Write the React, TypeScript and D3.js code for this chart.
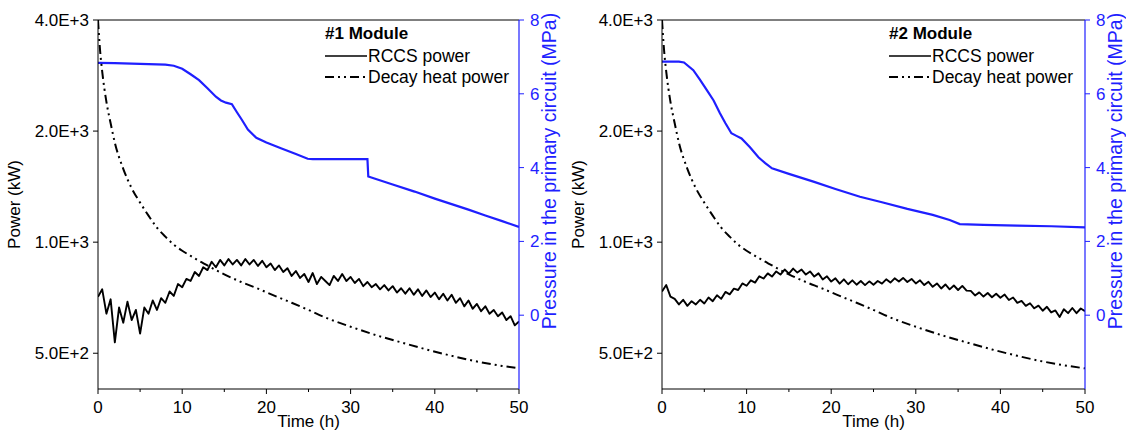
import React from 'react';
import * as d3 from 'd3';

// time axis ticks (h)
const timeTicks = [0, 10, 20, 30, 40, 50];
const timeMinor = [5, 15, 25, 35, 45];
const powerTicks = [500, 1000, 2000, 4000];
const pressureTicks = [0, 2, 4, 6, 8];

// RCCS power, sampled every 0.5 h (kW)
const rccsTime = d3.range(0, 50.01, 0.5);
const rccs1 = [
  711, 745, 640, 700, 535, 665, 605, 690, 615, 655, 565, 665, 640, 695, 655, 705, 685, 735, 715, 770,
  755, 795, 785, 830, 810, 855, 840, 885, 855, 895, 865, 900, 870, 895, 865, 900, 870, 895, 862, 890,
  855, 875, 840, 865, 830, 850, 810, 835, 800, 820, 780, 825, 770, 805, 785, 765, 810, 785, 820, 785,
  805, 775, 795, 760, 780, 755, 770, 745, 765, 740, 760, 730, 750, 725, 750, 720, 745, 715, 740, 710,
  730, 700, 725, 695, 720, 685, 705, 670, 695, 660, 680, 650, 670, 640, 655, 630, 645, 615, 630, 595,
  610,
];
const rccs2 = [
  735, 765, 712, 702, 678, 698, 672, 692, 678, 698, 682, 708, 692, 718, 702, 733, 722, 748, 742, 773,
  762, 788, 777, 808, 797, 823, 807, 833, 817, 843, 822, 848, 827, 843, 817, 833, 807, 823, 792, 808,
  782, 798, 772, 793, 769, 788, 767, 785, 765, 783, 767, 785, 772, 793, 777, 798, 782, 800, 780, 795,
  773, 788, 765, 781, 757, 773, 749, 768, 745, 763, 742, 761, 739, 738, 717, 731, 712, 728, 709, 725,
  707, 721, 697, 708, 685, 693, 672, 683, 662, 673, 652, 668, 645, 653, 627, 658, 642, 663, 642, 661,
  650,
];

// decay heat power (kW)
const decayTime = [0, 0.25, 0.5, 1, 1.5, 2, 3, 4, 5, 6, 7, 8, 9, 10, 11, 12, 13, 14, 15, 17, 19, 21, 23, 25, 27, 30, 33, 36, 39, 42, 45, 48, 50];
const decayPower = [4000, 3300, 2900, 2400, 2100, 1860, 1580, 1400, 1280, 1180, 1095, 1035, 985, 948, 918, 890, 865, 840, 818, 780, 748, 715, 685, 655, 625, 590, 560, 535, 512, 492, 475, 462, 455];

// pressure in the primary circuit (MPa)
const p1Time = [0, 2, 5, 8, 9, 10, 11, 12, 13, 14, 14.6, 15.2, 15.9, 16.5, 17.1, 17.8, 18.8, 20, 21.8, 23.5, 24.9, 25.5, 32.0, 32.1, 35, 37.6, 40, 42, 44, 46, 48, 50];
const p1 = [6.84, 6.83, 6.81, 6.79, 6.76, 6.68, 6.53, 6.37, 6.15, 5.92, 5.82, 5.76, 5.72, 5.5, 5.29, 5.03, 4.81, 4.68, 4.52, 4.37, 4.24, 4.23, 4.23, 3.76, 3.54, 3.35, 3.16, 3.01, 2.86, 2.7, 2.55, 2.39];
const p2Time = [0, 1, 2, 2.6, 3.7, 4.5, 5.3, 6.1, 6.85, 7.5, 8.2, 8.8, 9.4, 10.4, 11.4, 12.2, 13, 15, 17.9, 20.5, 23.4, 26, 29, 32, 34, 35.2, 38, 42, 46, 50];
const p2 = [6.87, 6.87, 6.87, 6.85, 6.64, 6.38, 6.1, 5.82, 5.47, 5.2, 4.93, 4.86, 4.79, 4.55, 4.28, 4.12, 3.98, 3.83, 3.62, 3.42, 3.21, 3.06, 2.88, 2.72, 2.58, 2.47, 2.45, 2.43, 2.41, 2.38];

const BLUE = '#1f1fff';
const FONT = '"Liberation Sans", Arial, sans-serif';
const DECAY_DASH = '9,4,2,4,2,4';

const top = 20;
const bottom = 389;

type PanelProps = {
  id: string;
  x0: number;
  x1: number;
  title: string;
  rccs: number[];
  pTime: number[];
  p: number[];
};

const Panel = ({ id, x0, x1, title, rccs, pTime, p }: PanelProps) => {
  const x = d3.scaleLinear().domain([0, 50]).range([x0, x1]);
  const yP = d3.scaleLog().domain([400, 4000]).range([bottom, top]);
  const yM = d3.scaleLinear().domain([-2, 8]).range([bottom, top]);

  const powerLine = d3
    .line<number>()
    .x((_, i) => x(rccsTime[i]))
    .y((d) => yP(d));
  const decayLine = d3
    .line<number>()
    .x((_, i) => x(decayTime[i]))
    .y((d) => yP(d))
    .curve(d3.curveMonotoneX);
  const pressLine = d3
    .line<number>()
    .x((_, i) => x(pTime[i]))
    .y((d) => yM(d));

  const fmt = (v: number) => v.toExponential(1).toUpperCase();
  const lx = x0 + 227;

  return (
    <g>
      <defs>
        <clipPath id={id}>
          <rect x={x0} y={top} width={x1 - x0} height={bottom - top} />
        </clipPath>
      </defs>

      {/* data */}
      <g clipPath={`url(#${id})`} fill="none">
        <path d={pressLine(p) || ''} stroke={BLUE} strokeWidth={2.2} />
        <path d={decayLine(decayPower) || ''} stroke="#000" strokeWidth={2} strokeDasharray={DECAY_DASH} />
        <path d={powerLine(rccs) || ''} stroke="#000" strokeWidth={1.9} strokeLinejoin="round" />
      </g>

      {/* frame */}
      <line x1={x0} x2={x1} y1={top} y2={top} stroke="#000" strokeWidth={1} />
      <line x1={x0} x2={x0} y1={top} y2={bottom} stroke="#000" strokeWidth={1} />
      <line x1={x0} x2={x1} y1={bottom} y2={bottom} stroke="#000" strokeWidth={1} />
      <line x1={x1} x2={x1} y1={top} y2={bottom} stroke={BLUE} strokeWidth={1.2} />

      {/* bottom axis */}
      {timeTicks.map((t) => (
        <g key={t}>
          <line x1={x(t)} x2={x(t)} y1={bottom} y2={bottom + 5} stroke="#000" />
          <text x={x(t)} y={413} textAnchor="middle" fontSize={17} fontFamily={FONT}>
            {t}
          </text>
        </g>
      ))}
      {timeMinor.map((t) => (
        <line key={t} x1={x(t)} x2={x(t)} y1={bottom} y2={bottom + 3} stroke="#000" />
      ))}
      <text x={(x0 + x1) / 2} y={427} textAnchor="middle" fontSize={17} fontFamily={FONT}>
        Time (h)
      </text>

      {/* left axis */}
      {powerTicks.map((v) => (
        <g key={v}>
          <line x1={x0 - 5} x2={x0} y1={yP(v)} y2={yP(v)} stroke="#000" />
          <text x={x0 - 9} y={yP(v)} dy="0.35em" textAnchor="end" fontSize={17} fontFamily={FONT}>
            {fmt(v)}
          </text>
        </g>
      ))}
      <text
        transform={`translate(${x0 - 78},${(top + bottom) / 2}) rotate(-90)`}
        textAnchor="middle"
        fontSize={17}
        fontFamily={FONT}
      >
        Power (kW)
      </text>

      {/* right axis */}
      {pressureTicks.map((v) => (
        <g key={v}>
          <line x1={x1} x2={x1 + 5} y1={yM(v)} y2={yM(v)} stroke={BLUE} />
          <text x={x1 + 11} y={yM(v)} dy="0.35em" fontSize={17} fontFamily={FONT} fill={BLUE}>
            {v}
          </text>
        </g>
      ))}
      <text
        transform={`translate(${x1 + 37},171) rotate(-90)`}
        textAnchor="middle"
        fontSize={19.5}
        fontFamily={FONT}
        fill={BLUE}
      >
        Pressure in the primary circuit (MPa)
      </text>

      {/* legend */}
      <text x={lx} y={39} fontSize={17} fontWeight="bold" fontFamily={FONT}>
        {title}
      </text>
      <line x1={lx} x2={lx + 42} y1={56} y2={56} stroke="#000" strokeWidth={1.6} />
      <text x={lx + 43} y={62} fontSize={17.5} fontFamily={FONT}>
        RCCS power
      </text>
      <line x1={lx} x2={lx + 42} y1={77} y2={77} stroke="#000" strokeWidth={2} strokeDasharray={DECAY_DASH} />
      <text x={lx + 43} y={83} fontSize={17.5} fontFamily={FONT}>
        Decay heat power
      </text>
    </g>
  );
};

export default function App() {
  return (
    <svg
      width={1126}
      height={433}
      style={{ position: 'absolute', left: 0, top: 0, background: '#fff' }}
    >
      <Panel id="clipA" x0={98} x1={519} title="#1 Module" rccs={rccs1} pTime={p1Time} p={p1} />
      <Panel id="clipB" x0={662} x1={1085} title="#2 Module" rccs={rccs2} pTime={p2Time} p={p2} />
    </svg>
  );
}
